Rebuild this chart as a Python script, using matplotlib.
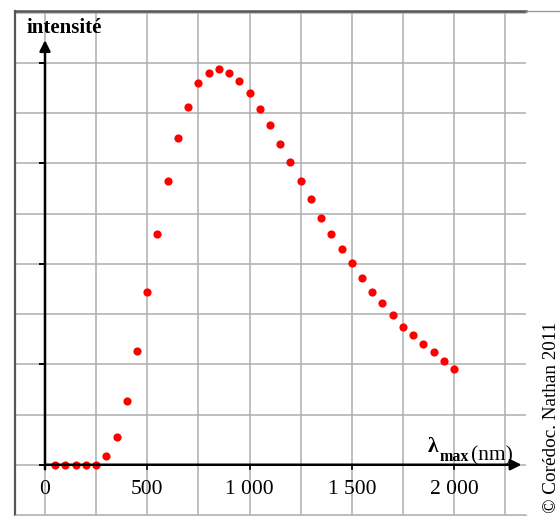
import numpy as np
import matplotlib.pyplot as plt
from matplotlib.lines import Line2D

# wavelength (nm) and relative intensity
wavelength = [50, 100, 150, 200, 250, 300, 350, 400, 450, 500,
              550, 600, 650, 700, 750, 800, 850, 900, 950, 1000,
              1050, 1100, 1150, 1200, 1250, 1300, 1350, 1400, 1450, 1500,
              1550, 1600, 1650, 1700, 1750, 1800, 1850, 1900, 1950, 2000]
intensity = [0.0, 0.0, 0.0, 0.0, 0.0, 0.18, 0.56, 1.27, 2.27, 3.44,
             4.59, 5.65, 6.50, 7.12, 7.59, 7.80, 7.87, 7.80, 7.63, 7.40,
             7.08, 6.76, 6.38, 6.02, 5.65, 5.29, 4.91, 4.59, 4.29, 4.02,
             3.72, 3.44, 3.22, 2.98, 2.74, 2.58, 2.41, 2.25, 2.07, 1.91]

x_labels = [0, 500, 1000, 1500, 2000]
y_ticks = [0, 2, 4, 6, 8]

plt.rcParams['font.family'] = ['Liberation Serif', 'DejaVu Serif']

fig = plt.figure(figsize=(5.6, 5.16), dpi=100)
ax = fig.add_axes([15/560, 1 - 515/516, (526 - 15)/560, (515 - 11)/516])
ax.set_xlim(-146.7, 2352)
ax.set_ylim(-0.994, 9.03)

# grid
ax.set_xticks(np.arange(0, 2251, 250))
ax.set_yticks(np.arange(-1, 10, 1))
ax.grid(True, color='#adadad', lw=1.1)
ax.tick_params(length=0, labelbottom=False, labelleft=False)
ax.set_axisbelow(True)
ax.spines['right'].set_visible(False)
ax.spines['left'].set_color('#555555')
ax.spines['left'].set_linewidth(1.6)
ax.spines['top'].set_color('#555555')
ax.spines['top'].set_linewidth(1.8)
ax.spines['bottom'].set_color('#bbbbbb')
ax.spines['bottom'].set_linewidth(1.0)
fig.add_artist(Line2D([526/560, 1.0], [1 - 11/516, 1 - 11/516], color='#999999', lw=1.0))

# axes with arrows
ax.annotate('', xy=(2330, 0), xytext=(0, 0),
            arrowprops=dict(arrowstyle='-|>', color='black', lw=1.8, mutation_scale=16, shrinkA=0, shrinkB=0))
ax.annotate('', xy=(0, 8.45), xytext=(0, -0.09),
            arrowprops=dict(arrowstyle='-|>', color='black', lw=1.8, mutation_scale=16, shrinkA=0, shrinkB=0))
for yt in y_ticks:
    ax.plot([-25, 0], [yt, yt], color='black', lw=1.4)
for xt in x_labels[1:]:
    ax.plot([xt, xt], [0, -0.09], color='black', lw=1.2)

for xt in x_labels:
    lab = '{:,}'.format(xt).replace(',', ' ')
    ax.text(xt, -0.49, lab, ha='center', va='center', fontsize=15.5)

ax.text(-90, 8.7, 'intensité', fontsize=15, fontweight='bold', ha='left', va='center')

lam = ax.text(1873, 0.26, 'λ', fontsize=15.5, fontweight='bold', ha='left', va='baseline')
sub = ax.annotate('max', xy=(1, 0), xycoords=lam, xytext=(0.5, -3), textcoords='offset points',
                  fontsize=11.5, fontweight='bold', ha='left', va='baseline')
ax.annotate('(nm)', xy=(1, 0), xycoords=sub, xytext=(2, 3), textcoords='offset points',
            fontsize=15.5, ha='left', va='baseline')

ax.plot(wavelength, intensity, 'o', color='#ff0000', markersize=5.9, markeredgewidth=0)

fig.text(551/560, 1 - 417/516, '© Corédoc. Nathan 2011', rotation=90, fontsize=13.8,
         ha='center', va='center')

fig.savefig('out.png', dpi=100)
